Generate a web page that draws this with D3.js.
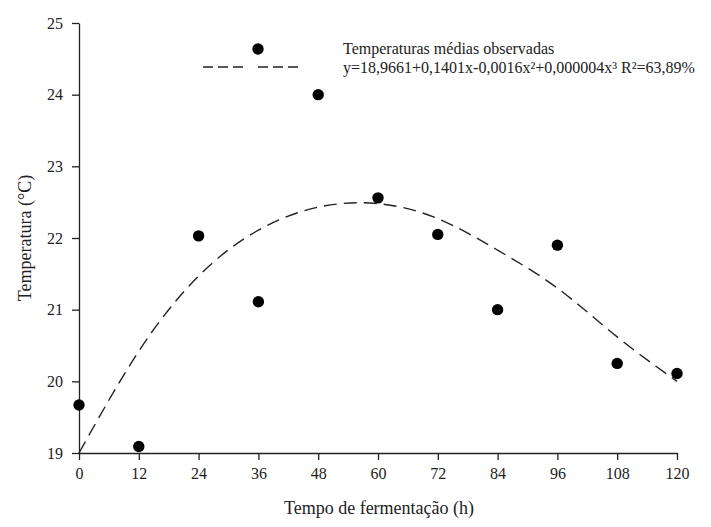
<!DOCTYPE html>
<html><head><meta charset="utf-8">
<script src="https://cdn.jsdelivr.net/npm/d3@7"></script>
<style>body{margin:0;background:#fff}svg{display:block}svg text{font-family:"Liberation Serif","Times New Roman",serif !important;fill:#222}</style>
</head><body><svg id="c" width="711" height="527" font-family="Liberation Serif"></svg>
<script>
const hours = [0,12,24,36,48,60,72,84,96,108,120];
const observed = [19.67,19.09,22.03,21.11,24.0,22.56,22.05,21.0,21.90,20.25,20.11];
const fitted = [19.0,20.42,21.47,22.11,22.43,22.48,22.27,21.83,21.30,20.62,20.0];
const xTicks = [0,12,24,36,48,60,72,84,96,108,120];
const yTicks = [19,20,21,22,23,24,25];
const legendLabels = ["Temperaturas médias observadas","y=18,9661+0,1401x-0,0016x²+0,000004x³ R²=63,89%"];

const FONT = "Liberation Serif";
const svg = d3.select("#c");
const x = d3.scaleLinear().domain([0,120]).range([79,677]);
const y = d3.scaleLinear().domain([19,25]).range([453,23]);

const xAxis = svg.append("g").attr("transform","translate(0,453)")
  .call(d3.axisBottom(x).tickValues(xTicks).tickFormat(d3.format("d")).tickSize(7).tickPadding(8).tickSizeOuter(0));
const yAxis = svg.append("g").attr("transform","translate(79,0)")
  .call(d3.axisLeft(y).tickValues(yTicks).tickFormat(d3.format("d")).tickSize(7).tickPadding(9).tickSizeOuter(0));
[xAxis,yAxis].forEach(a=>{
  a.attr("font-family",FONT).attr("font-size",16);
  a.selectAll("path,line").attr("stroke","#222").attr("stroke-width",1.3);
  a.selectAll("text").attr("font-family",FONT).attr("font-size",16).attr("fill","#222");
});

// fitted curve
const line = d3.line().x((d,i)=>x(hours[i])).y(d=>y(d)).curve(d3.curveNatural);
svg.append("path").datum(fitted).attr("d",line).attr("fill","none")
  .attr("stroke","#222").attr("stroke-width",1.4).attr("stroke-dasharray","13,7");

// observed points
svg.append("g").selectAll("circle").data(observed).join("circle")
  .attr("cx",(d,i)=>x(hours[i])).attr("cy",d=>y(d)).attr("r",5.7).attr("fill","#000");

// legend
const lg = svg.append("g");
lg.append("circle").attr("cx",258).attr("cy",49).attr("r",5.7).attr("fill","#000");
lg.append("line").attr("x1",203).attr("x2",301).attr("y1",67).attr("y2",67)
  .attr("stroke","#222").attr("stroke-width",1.4)
  .attr("stroke-dasharray","10,5,10,5,10,15,10,5,10,5,10,5");
lg.selectAll("text").data(legendLabels).join("text")
  .attr("x",343).attr("y",(d,i)=>54+i*19).attr("font-family",FONT).attr("font-size",16).text(d=>d);

// axis titles
svg.append("text").attr("x",379).attr("y",514).attr("text-anchor","middle")
  .attr("font-family",FONT).attr("font-size",18).text("Tempo de fermentação (h)");
svg.append("text").attr("transform","translate(31,238) rotate(-90)").attr("text-anchor","middle")
  .attr("font-family",FONT).attr("font-size",18).text("Temperatura (°C)");
</script></body></html>
